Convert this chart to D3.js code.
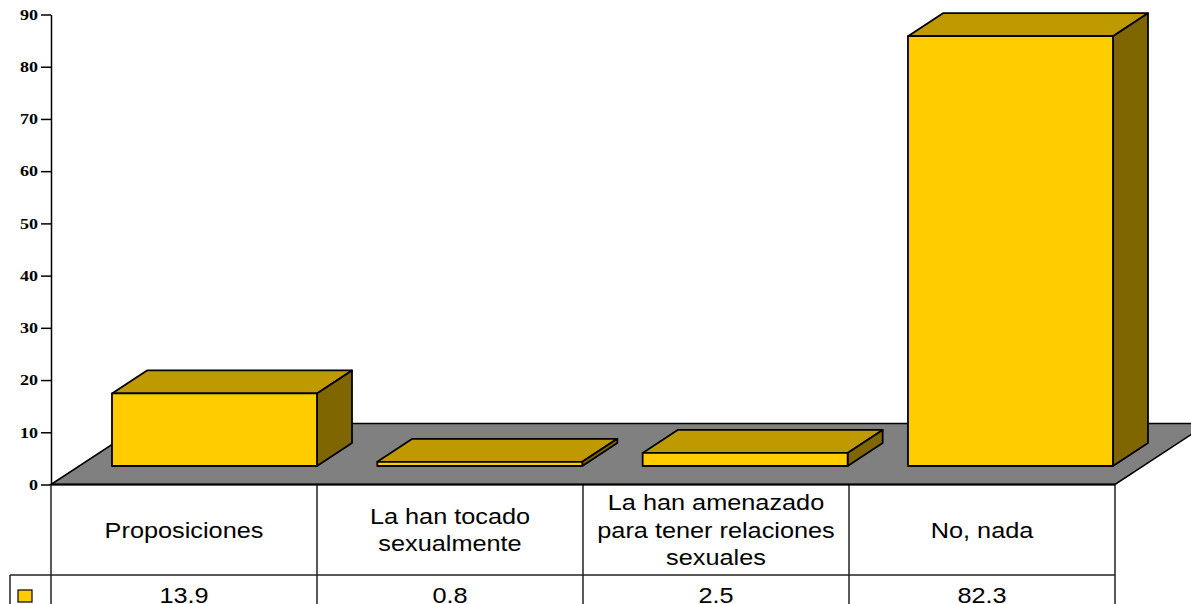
<!DOCTYPE html>
<html>
<head>
<meta charset="utf-8">
<style>
html, body { margin: 0; padding: 0; background: #fff; overflow: hidden; }
svg { display: block; }
</style>
<script src="https://cdn.jsdelivr.net/npm/d3@7"></script>
</head>
<body>
<div id="chart"></div>
<script>
var categories = ['Proposiciones', 'La han tocado sexualmente', 'La han amenazado para tener relaciones sexuales', 'No, nada'];
var labelLines = [['Proposiciones'], ['La han tocado', 'sexualmente'], ['La han amenazado', 'para tener relaciones', 'sexuales'], ['No, nada']];
var values = [13.9, 0.8, 2.5, 82.3];
var valueLabels = ['13.9', '0.8', '2.5', '82.3'];
var yTicks = [0, 10, 20, 30, 40, 50, 60, 70, 80, 90];

var width = 1191, height = 604;
var colorFront = '#FFCC00', colorTop = '#BF9900', colorSide = '#806600', colorFloor = '#808080';

// profundidad 3D
var depthX = 35, depthY = 23;
var floorX = 93, floorY = 61;
var barLift = 18.5, barWidth = 205;
// el texto original esta estirado a lo ancho
var textStretch = 1.15, tickStretch = 1.2;

var svg = d3.select('#chart').append('svg')
  .attr('width', width)
  .attr('height', height);

var x = d3.scaleBand().domain(categories).range([51, 1115]);
var xBar = d3.scaleBand().domain(categories).range([112, 1173.3]);
var y = d3.scaleLinear().domain([0, 90]).range([484.5, 14.5]);
var px = d3.line();

// suelo
svg.append('path')
  .attr('d', px([
    [x.range()[0], y(0)],
    [x.range()[0] + floorX, y(0) - floorY],
    [x.range()[1] + floorX, y(0) - floorY],
    [x.range()[1], y(0)]
  ]) + 'Z')
  .attr('fill', colorFloor)
  .attr('stroke', '#000')
  .attr('stroke-width', 1.5);

// barras
var bars = svg.selectAll('g.bar')
  .data(categories)
  .enter()
  .append('g')
  .attr('class', 'bar')
  .attr('stroke', '#000')
  .attr('stroke-width', 1.8)
  .attr('stroke-linejoin', 'round');

function barLeft(d) { return xBar(d); }
function barBase() { return y(0) - barLift; }
function barTop(d, i) { return y(values[i]) - barLift; }

bars.append('path')
  .attr('fill', colorTop)
  .attr('d', function (d, i) {
    var l = barLeft(d), t = barTop(d, i);
    return px([[l, t], [l + depthX, t - depthY], [l + barWidth + depthX, t - depthY], [l + barWidth, t]]) + 'Z';
  });
bars.append('path')
  .attr('fill', colorSide)
  .attr('d', function (d, i) {
    var r = barLeft(d) + barWidth, t = barTop(d, i), b = barBase();
    return px([[r, t], [r + depthX, t - depthY], [r + depthX, b - depthY], [r, b]]) + 'Z';
  });
bars.append('rect')
  .attr('fill', colorFront)
  .attr('x', barLeft)
  .attr('y', barTop)
  .attr('width', barWidth)
  .attr('height', function (d, i) { return barBase() - barTop(d, i); });

// eje Y
var yAxis = svg.append('g')
  .attr('transform', 'translate(51,0)')
  .call(d3.axisLeft(y).tickValues(yTicks).tickSize(10).tickPadding(3).tickSizeOuter(0));
yAxis.selectAll('line').attr('stroke', '#000').attr('stroke-width', 1.5);
yAxis.select('.domain').attr('stroke', '#000').attr('stroke-width', 1.5);
yAxis.selectAll('text')
  .attr('fill', '#000')
  .attr('x', -13 / tickStretch)
  .attr('transform', 'scale(' + tickStretch + ',1)')
  .style('font-family', '"Liberation Serif", serif')
  .style('font-weight', 'bold')
  .style('font-size', '15px');

// tabla de datos
var table = svg.append('g').attr('stroke', '#222').attr('stroke-width', 1.5);
var tableLines = x.domain().map(function (d) { return x(d); }).concat([x.range()[1]]);
table.selectAll('line.v')
  .data(tableLines)
  .enter()
  .append('line')
  .attr('x1', function (d) { return d; })
  .attr('x2', function (d) { return d; })
  .attr('y1', y(0))
  .attr('y2', height);
table.append('line').attr('x1', 10).attr('x2', x.range()[1]).attr('y1', 575).attr('y2', 575);
table.append('line').attr('x1', 10).attr('x2', 10).attr('y1', 575).attr('y2', height);
svg.append('line')
  .attr('x1', x.range()[0]).attr('x2', x.range()[1])
  .attr('y1', y(0)).attr('y2', y(0))
  .attr('stroke', '#000').attr('stroke-width', 2);

// leyenda
svg.append('rect')
  .attr('x', 18).attr('y', 590)
  .attr('width', 14).attr('height', 12)
  .attr('fill', colorFront)
  .attr('stroke', '#000')
  .attr('stroke-width', 1.2);

function tableText(sel) {
  return sel
    .attr('text-anchor', 'middle')
    .style('font-family', '"Liberation Sans", Arial, sans-serif')
    .style('font-size', '22px')
    .attr('fill', '#000');
}

var lineHeight = 27.5;
var labelData = [];
categories.forEach(function (c, i) {
  var lines = labelLines[i];
  var startY = 537.5 - (lines.length - 1) * lineHeight / 2;
  lines.forEach(function (l, j) {
    labelData.push({ text: l, cx: x(c) + x.bandwidth() / 2, ty: startY + j * lineHeight });
  });
});

tableText(svg.selectAll('text.cat')
  .data(labelData)
  .enter()
  .append('text')
  .attr('class', 'cat'))
  .attr('transform', function (d) { return 'translate(' + d.cx + ',' + d.ty + ') scale(' + textStretch + ',1)'; })
  .text(function (d) { return d.text; });

tableText(svg.selectAll('text.val')
  .data(categories)
  .enter()
  .append('text')
  .attr('class', 'val'))
  .attr('transform', function (d) { return 'translate(' + (x(d) + x.bandwidth() / 2) + ',602.5) scale(' + textStretch + ',1)'; })
  .text(function (d, i) { return valueLabels[i]; });
</script>
</body>
</html>
